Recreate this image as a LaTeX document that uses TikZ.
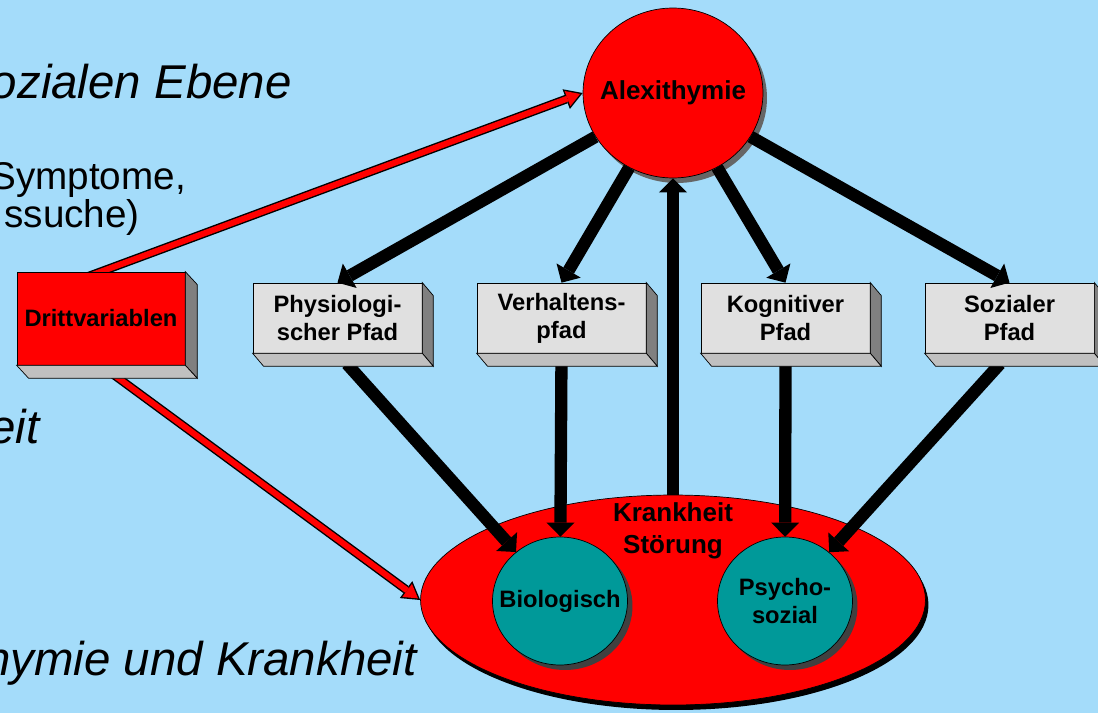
\documentclass[tikz,border=0pt]{standalone}
\usepackage{fontspec}
\setmainfont{Liberation Sans}
\usetikzlibrary{arrows.meta,shapes.geometric,shadows}
\definecolor{himmel}{RGB}{164,220,250}
\definecolor{kasten}{RGB}{224,224,224}
\definecolor{seite}{RGB}{128,128,128}
\definecolor{boden}{RGB}{192,192,192}
\definecolor{tuerkis}{RGB}{0,153,153}
\pgfdeclarelayer{back}
\pgfdeclarelayer{mid}
\pgfsetlayers{back,mid,main}
% right and bottom face of a box node
\newcommand{\extrude}[2]{%
  \filldraw[fill=seite] (#1.north east) -- ++(#2) -- ([shift={(#2)}]#1.south east) -- (#1.south east) -- cycle;
  \filldraw[fill=boden] (#1.south west) -- (#1.south east) -- ([shift={(#2)}]#1.south east) -- ([shift={(#2)}]#1.south west) -- cycle;}

\begin{document}
\begin{tikzpicture}[x = 0.02cm, y = -0.02cm, line width = 0.5pt,
  lbl/.style = {font = \bfseries\fontsize{13.5}{16}\selectfont, align = center},
  groß/.style = {font = \bfseries\fontsize{14.8}{18}\selectfont, align = center},
  pfad/.style = {draw, fill = kasten, minimum width = 3.38cm, minimum height = 1.4cm, inner sep = 0pt, lbl},
  kreis/.style = {draw, ellipse, inner sep = 0pt},
  pfeil/.style = {line width = 7pt, -{Triangle[length = 8pt, width = 16pt, line width = 0pt]}},
  rotaussen/.style = {line width = 5pt, black, shorten <= -8pt, -{Triangle[length = 10pt, width = 12pt, line width = 0pt]}},
  rotinnen/.style = {line width = 3.4pt, red, shorten <= -8pt, shorten >= 1.55pt, -{Triangle[length = 7.65pt, width = 9.2pt, line width = 0pt]}},
  hinten/.style = {anchor = base east, inner sep = 0pt, font = \itshape\fontsize{27}{30}\selectfont}]
\begin{pgfonlayer}{back}
\fill[himmel] (0, 0) rectangle (1098, 713);
\end{pgfonlayer}
\useasboundingbox (0, 0) rectangle (1098, 713);
% Text of the slide behind
\node[hinten] (ebene) at (292, 98) {ozialen Ebene};
\node[anchor = north west, inner sep = 0pt, align = left, font = \fontsize{22}{19}\selectfont] (sympt) at (-10, 162) {Symptome,\\\hspace{8pt}ssuche)};
\node[hinten] (eit) at (40, 443) {eit};
\node[hinten] (zshg) at (417, 675) {hymie und Krankheit};
% Disease field
\node[kreis, fill = red, minimum width = 10.1cm, minimum height = 4.2cm,
  drop shadow = {shadow xshift = 0.06cm, shadow yshift = -0.1cm, fill = black, opacity = 1}] (krank) at (673, 600) {};
\node[groß] (krtext) at (673, 531) {Krankheit\\Störung};
\node[kreis, fill = tuerkis, minimum width = 2.7cm, minimum height = 2.56cm, label = {[lbl]center:Biologisch},
  drop shadow = {shadow xshift = 0.1cm, shadow yshift = -0.1cm, fill = black!75, opacity = 1}] (bio) at (560, 601) {};
\node[kreis, fill = tuerkis, minimum width = 2.7cm, minimum height = 2.56cm, label = {[lbl]center:Psycho-\\sozial},
  drop shadow = {shadow xshift = 0.1cm, shadow yshift = -0.1cm, fill = black!75, opacity = 1}] (psy) at (785, 601) {};
% Alexithymie
\node[kreis, fill = red, minimum width = 3.6cm, minimum height = 3.4cm, label = {[groß]center:Alexithymie},
  drop shadow = {shadow xshift = 0.08cm, shadow yshift = -0.1cm, fill = black!60, opacity = 1}] (alex) at (673, 93) {};
% Boxes
\node[pfad, fill = red, minimum width = 3.36cm, minimum height = 1.86cm] (dritt) at (101, 318.5) {Drittvariablen};
\node[pfad] (phys) at (337.5, 318) {Physiologi-\\scher Pfad};
\node[pfad] (verh) at (561.5, 318) {Verhaltens-\\pfad};
\node[pfad] (kog) at (785.5, 318) {Kognitiver\\Pfad};
\node[pfad] (soz) at (1009.5, 318) {Sozialer\\Pfad};
% Paths
\draw[pfeil] (alex) -- (phys.north);
\draw[pfeil] (alex) -- (verh.north);
\draw[pfeil] (alex) -- (kog.north);
\draw[pfeil] (alex) -- (soz.north);
\draw[pfeil] (krank.north) -- (alex.south);
\draw[pfeil, shorten <= 8pt] (phys.south) -- (bio);
\draw[pfeil] (verh.south) -- (bio);
\draw[pfeil] (kog.south) -- (psy);
\draw[pfeil, shorten <= 8pt] (soz.south) -- (psy);
\extrude{dritt}{12, 13}
\extrude{phys}{11, 13}
\extrude{verh}{11, 13}
\extrude{kog}{11, 13}
\extrude{soz}{11, 13}
% Third variables
\begin{pgfonlayer}{mid}
\draw[rotaussen] (dritt.north) -- (alex.west);
\draw[rotinnen] (dritt.north) -- (alex.west);
\draw[rotaussen] (dritt.south) -- (krank.west);
\draw[rotinnen] (dritt.south) -- (krank.west);
\end{pgfonlayer}
\end{tikzpicture}
\end{document}
